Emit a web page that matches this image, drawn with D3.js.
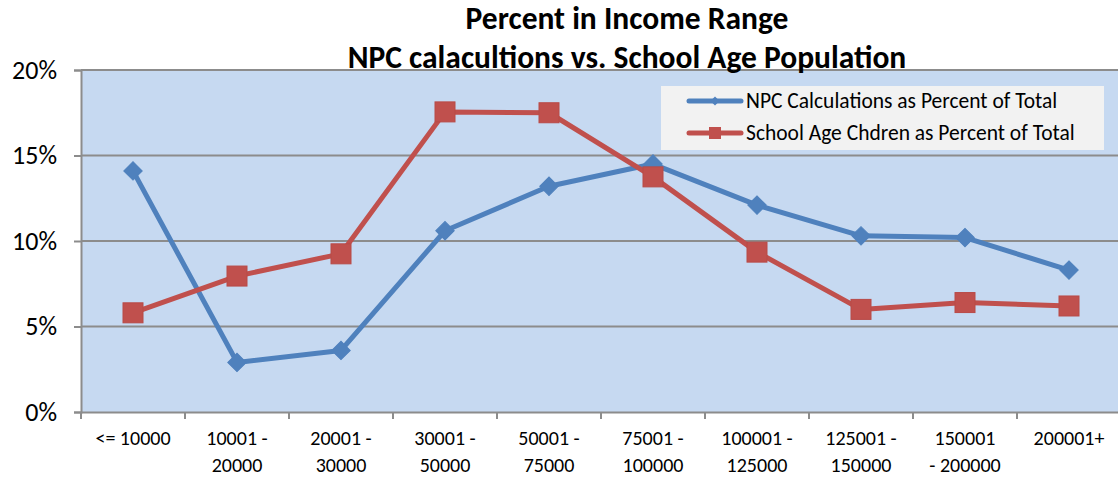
<!DOCTYPE html>
<html><head><meta charset="utf-8">
<script src="https://cdn.jsdelivr.net/npm/d3@7"></script>
<style>body{margin:0;background:#fff;}svg{display:block;}</style>
</head><body>
<svg id="c" width="1118" height="477"></svg>
<script>
const categories = [["<= 10000"],["10001 -","20000"],["20001 -","30000"],["30001 -","50000"],["50001 -","75000"],["75001 -","100000"],["100001 -","125000"],["125001 -","150000"],["150001","- 200000"],["200001+"]];
const npcValues = [0.141, 0.029, 0.036, 0.106, 0.132, 0.145, 0.121, 0.103, 0.102, 0.083];
const schoolValues = [0.058, 0.0795, 0.0925, 0.1755, 0.175, 0.1375, 0.0935, 0.060, 0.064, 0.062];
const yTicks = [0, 0.05, 0.10, 0.15, 0.20];
const seriesNames = ["NPC Calculations as Percent of Total", "School Age Chdren as Percent of Total"];
const titleLines = ["Percent in Income Range", "NPC calacultions vs. School Age Population"];

const svg = d3.select("#c");
const font = "Carlito, Lato, 'Open Sans', sans-serif";
const m = {l:81, t:70, r:1121, b:412};
const idx = d3.range(categories.length);
const x = d3.scaleBand().domain(idx).range([m.l, m.r]).paddingInner(0).paddingOuter(0);
const y = d3.scaleLinear().domain([0, 0.20]).range([m.b, m.t]);

svg.append("rect").attr("x", m.l).attr("y", m.t).attr("width", m.r - m.l).attr("height", m.b - m.t).attr("fill", "#c6d9f1");

// gridlines
svg.append("g").selectAll("line").data(yTicks.slice(1)).join("line")
  .attr("x1", m.l).attr("x2", m.r).attr("y1", d => y(d)).attr("y2", d => y(d))
  .attr("stroke", "#8c8c8c").attr("stroke-width", 2);

// y axis
const yAxis = d3.axisLeft(y).tickValues(yTicks).tickFormat(d3.format(".0%")).tickSize(7).tickPadding(17);
const gy = svg.append("g").attr("transform", `translate(${m.l},0)`).call(yAxis);
gy.select(".domain").attr("stroke", "#8c8c8c").attr("stroke-width", 2);
gy.selectAll(".tick line").attr("stroke", "#8c8c8c").attr("stroke-width", 2);
gy.selectAll("text").attr("font-family", font).attr("font-size", 26).attr("fill", "#000");

// x axis
const xAxis = d3.axisBottom(x).tickSize(0).tickFormat("");
const gx = svg.append("g").attr("transform", `translate(0,${m.b})`).call(xAxis);
gx.select(".domain").attr("stroke", "#8c8c8c").attr("stroke-width", 2);
gx.selectAll(".tick").remove();
const bounds = idx.map(i => x(i)).concat([m.r]);
gx.selectAll("line.t").data(bounds).join("line").attr("class","t")
  .attr("x1", d => d).attr("x2", d => d).attr("y1", 0).attr("y2", 7)
  .attr("stroke", "#8c8c8c").attr("stroke-width", 2);
const lab = svg.append("g");
categories.forEach((lines, i) => {
  const t = lab.append("text").attr("text-anchor", "middle").attr("font-family", font).attr("font-size", 20).attr("fill", "#000");
  lines.forEach((s, j) => {
    t.append("tspan").attr("x", x(i) + x.bandwidth()/2).attr("y", 445 + j*27).text(s);
  });
});

// lines
const cx = i => x(i) + x.bandwidth()/2;
const line = d3.line().x((d,i) => cx(i)).y(d => y(d));
svg.append("path").datum(npcValues).attr("d", line).attr("fill","none").attr("stroke","#4f81bd").attr("stroke-width",5).attr("stroke-linejoin","round");
svg.append("path").datum(schoolValues).attr("d", line).attr("fill","none").attr("stroke","#c0504d").attr("stroke-width",5).attr("stroke-linejoin","round");

svg.append("g").selectAll("path").data(npcValues).join("path")
  .attr("d", d3.symbol().type(d3.symbolSquare).size(170))
  .attr("transform", (d,i) => `translate(${cx(i)},${y(d)}) rotate(45)`)
  .attr("fill", "#4f81bd").attr("stroke", "#4f81bd").attr("stroke-width", 1);
svg.append("g").selectAll("rect").data(schoolValues).join("rect")
  .attr("x", (d,i) => cx(i) - 10).attr("y", d => y(d) - 10).attr("width", 20).attr("height", 20)
  .attr("fill", "#c0504d").attr("stroke", "#b84a47").attr("stroke-width", 1);

// legend
const lg = svg.append("g");
lg.append("rect").attr("x", 661).attr("y", 86).attr("width", 443).attr("height", 64).attr("fill", "#f2f2f2");
const colors = ["#4f81bd", "#c0504d"];
seriesNames.forEach((n, i) => {
  const yy = 101 + i*32;
  lg.append("line").attr("x1", 689).attr("x2", 741).attr("y1", yy).attr("y2", yy).attr("stroke", colors[i]).attr("stroke-width", 5).attr("stroke-linecap","round");
  if (i === 0) {
    lg.append("path").attr("d", d3.symbol().type(d3.symbolSquare).size(40)).attr("transform", `translate(715,${yy}) rotate(45)`).attr("fill", colors[i]);
  } else {
    lg.append("rect").attr("x", 709).attr("y", yy - 6).attr("width", 12).attr("height", 12).attr("fill", colors[i]);
  }
  lg.append("text").attr("x", 746).attr("y", yy + 7).attr("font-family", font).attr("font-size", 21.5).attr("fill", "#000").text(n);
});

// title
titleLines.forEach((s, i) => {
  svg.append("text").attr("x", 627).attr("y", 29 + i*39).attr("text-anchor", "middle")
    .attr("font-family", font).attr("font-weight", "bold").attr("font-size", 31.5).attr("fill", "#000").text(s);
});
</script>
</body></html>
